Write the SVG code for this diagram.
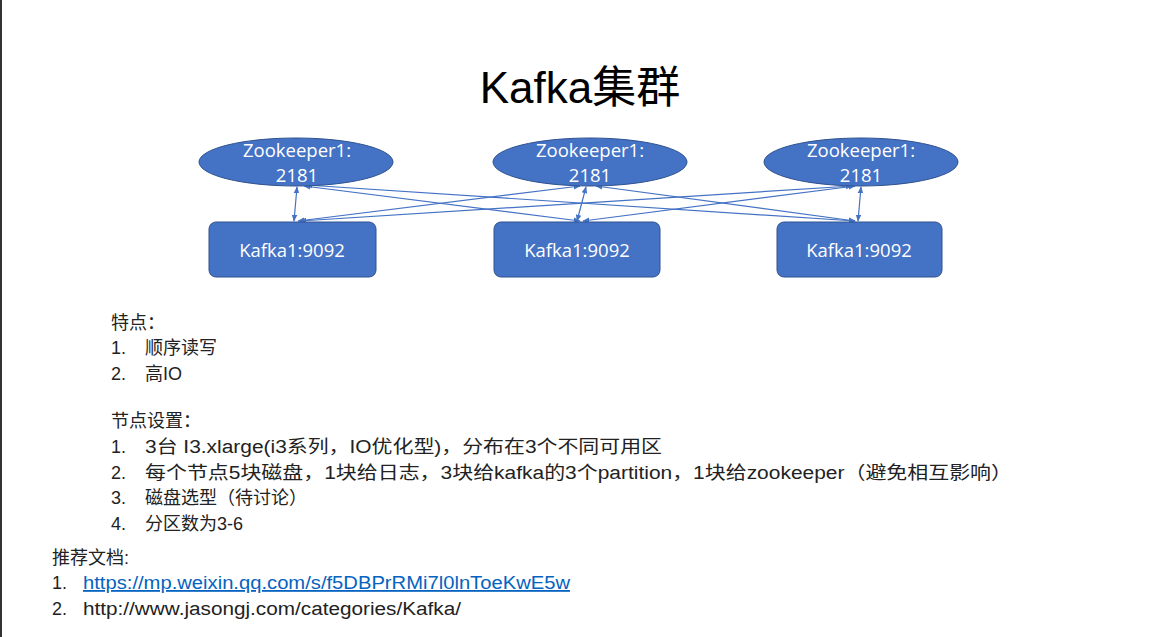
<svg xmlns="http://www.w3.org/2000/svg" width="1156" height="637" viewBox="0 0 1156 637">
<style>
.zk{fill:#4472C4;stroke:#2F528F;stroke-width:1}
.kf{fill:#4472C4;stroke:#2F528F;stroke-width:1}
.nt{font-family:"Open Sans","Noto Sans","Noto Sans CJK SC",sans-serif;fill:#fff;text-anchor:middle}
.conn line{stroke:#4472C4;stroke-width:1.2;marker-start:url(#ah);marker-end:url(#ah)}
.bt{font-family:"Liberation Sans","Noto Sans CJK SC",sans-serif;font-size:18px;fill:#222}
.title{font-family:"Liberation Sans","Noto Sans CJK SC",sans-serif;font-size:44px;fill:#000;text-anchor:middle}
</style>
<defs>
<marker id="ah" viewBox="0 0 10 10" refX="9" refY="5" markerWidth="7" markerHeight="7" orient="auto-start-reverse" markerUnits="userSpaceOnUse">
<path d="M0,1 L10,5 L0,9 z" fill="#4472C4"/>
</marker>
</defs>
<rect x="0" y="0" width="1156" height="637" fill="#fff"/>
<rect x="0" y="0" width="2" height="637" fill="#333"/>
<text class="title" x="580" y="103">Kafka集群</text>
<g class="conn" id="connectors">
<line x1="297" y1="187" x2="294" y2="221"/>
<line x1="586" y1="187" x2="577" y2="221"/>
<line x1="861" y1="187" x2="858" y2="221"/>
<line x1="304" y1="186" x2="580" y2="221"/>
<line x1="306" y1="185" x2="855" y2="221"/>
<line x1="580" y1="186" x2="298" y2="221"/>
<line x1="596" y1="186" x2="855" y2="221"/>
<line x1="852" y1="186" x2="300" y2="221"/>
<line x1="855" y1="186" x2="583" y2="221"/>
</g>
<g id="zk1"><ellipse class="zk" cx="296" cy="162" rx="97" ry="24"/><text class="nt" x="297" y="157" font-size="18.5">Zookeeper1:</text><text class="nt" x="297" y="182" font-size="18.5">2181</text></g>
<g id="zk2"><ellipse class="zk" cx="590" cy="162" rx="97" ry="24"/><text class="nt" x="590" y="157" font-size="18.5">Zookeeper1:</text><text class="nt" x="590" y="182" font-size="18.5">2181</text></g>
<g id="zk3"><ellipse class="zk" cx="861" cy="162" rx="97" ry="24"/><text class="nt" x="861" y="157" font-size="18.5">Zookeeper1:</text><text class="nt" x="861" y="182" font-size="18.5">2181</text></g>
<g id="kafka1"><rect class="kf" x="209" y="222" width="167" height="55" rx="7"/><text class="nt" x="292" y="257" font-size="18.5">Kafka1:9092</text></g>
<g id="kafka2"><rect class="kf" x="494" y="222" width="166" height="55" rx="7"/><text class="nt" x="577" y="257" font-size="18.5">Kafka1:9092</text></g>
<g id="kafka3"><rect class="kf" x="777" y="222" width="165" height="55" rx="7"/><text class="nt" x="859" y="257" font-size="18.5">Kafka1:9092</text></g>
<g id="notes">
<text class="bt" x="111" y="329">特点：</text>
<text class="bt" x="111" y="354">1.</text><text class="bt" x="145" y="354">顺序读写</text>
<text class="bt" x="111" y="380">2.</text><text class="bt" x="145" y="380">高IO</text>
<text class="bt" x="111" y="427">节点设置：</text>
<text class="bt" x="111" y="453">1.</text><text class="bt" x="145" y="453" textLength="517" lengthAdjust="spacingAndGlyphs">3台 I3.xlarge(i3系列，IO优化型)，分布在3个不同可用区</text>
<text class="bt" x="111" y="479">2.</text><text class="bt" x="145" y="479" textLength="867" lengthAdjust="spacingAndGlyphs">每个节点5块磁盘，1块给日志，3块给kafka的3个partition，1块给zookeeper（避免相互影响）</text>
<text class="bt" x="111" y="504">3.</text><text class="bt" x="145" y="504">磁盘选型（待讨论）</text>
<text class="bt" x="111" y="530">4.</text><text class="bt" x="145" y="530">分区数为3-6</text>
<text class="bt" x="52" y="564">推荐文档:</text>
<text class="bt" x="52" y="589">1.</text><text class="bt" x="83" y="589" style="fill:#0563C1" text-decoration="underline" textLength="487" lengthAdjust="spacingAndGlyphs">https://mp.weixin.qq.com/s/f5DBPrRMi7l0lnToeKwE5w</text>
<text class="bt" x="52" y="615">2.</text><text class="bt" x="83" y="615" textLength="378" lengthAdjust="spacingAndGlyphs">http://www.jasongj.com/categories/Kafka/</text>
</g>
</svg>
